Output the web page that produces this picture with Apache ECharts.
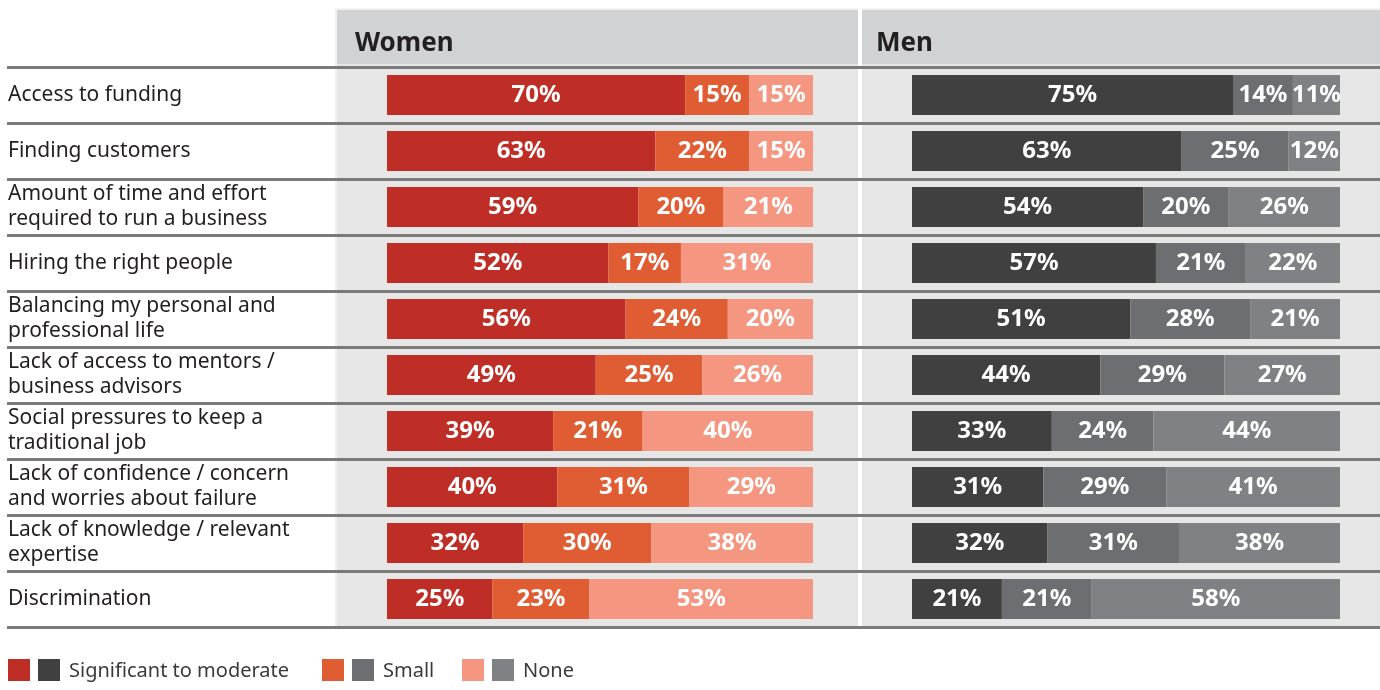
<!DOCTYPE html>
<html>
<head>
<meta charset="utf-8">
<script src="https://cdn.jsdelivr.net/npm/echarts@6/dist/echarts.min.js"></script>
<style>
  html, body { margin: 0; padding: 0; background: #ffffff; }
  #chart { width: 1380px; height: 690px; }
</style>
</head>
<body>
<div id="chart"></div>
<script>
const categories = [
  'Access to funding',
  'Finding customers',
  'Amount of time and effort\nrequired to run a business',
  'Hiring the right people',
  'Balancing my personal and\nprofessional life',
  'Lack of access to mentors /\nbusiness advisors',
  'Social pressures to keep a\ntraditional job',
  'Lack of confidence / concern\nand worries about failure',
  'Lack of knowledge / relevant\nexpertise',
  'Discrimination'
];
const panelTitles = ['Women', 'Men'];
const levelNames = ['Significant to moderate', 'Small', 'None'];

const womenSignificant = [70, 63, 59, 52, 56, 49, 39, 40, 32, 25];
const womenSmall       = [15, 22, 20, 17, 24, 25, 21, 31, 30, 23];
const womenNone        = [15, 15, 21, 31, 20, 26, 40, 29, 38, 53];

const menSignificant = [75, 63, 54, 57, 51, 44, 33, 31, 32, 21];
const menSmall       = [14, 25, 20, 21, 28, 29, 24, 29, 31, 21];
const menNone        = [11, 12, 26, 22, 21, 27, 44, 41, 38, 58];

const womenColors = ['#bf2e26', '#e05c33', '#f59680'];
const menColors = ['#404040', '#6d6e71', '#808184'];

const FONT = '"Noto Sans", "Open Sans", sans-serif';

// Bars in the reference are drawn as shares of each row's total (rows total 100-101%)
function shares(groups) {
  return groups.map((arr) => arr.map((v, i) => {
    const total = groups.reduce((s, g) => s + g[i], 0);
    return v / total * 100;
  }));
}
const womenGroups = [womenSignificant, womenSmall, womenNone];
const menGroups = [menSignificant, menSmall, menNone];
const womenShares = shares(womenGroups);
const menShares = shares(menGroups);

function makeSeries(groups, shareArr, colors, gridIdx, stackName, prefix) {
  return groups.map((raw, k) => ({
    name: prefix + levelNames[k],
    type: 'bar',
    stack: stackName,
    xAxisIndex: gridIdx,
    yAxisIndex: gridIdx,
    barWidth: 40,
    data: shareArr[k],
    itemStyle: { color: colors[k] },
    label: {
      show: true,
      position: 'inside',
      color: '#ffffff',
      fontFamily: FONT,
      fontWeight: 'bold',
      fontSize: 24,
      formatter: p => raw[p.dataIndex] + '%'
    },
    emphasis: { disabled: true }
  }));
}

const chart = echarts.init(document.getElementById('chart'), null, { renderer: 'canvas' });

const gridTop = 67, gridHeight = 560;

const legendItems = [
  { x: 8, colors: [womenColors[0], menColors[0]], text: levelNames[0] },
  { x: 322, colors: [womenColors[1], menColors[1]], text: levelNames[1] },
  { x: 462, colors: [womenColors[2], menColors[2]], text: levelNames[2] }
];
const legendGraphics = [];
legendItems.forEach(it => {
  legendGraphics.push({ type: 'rect', left: it.x, top: 659, shape: { width: 22, height: 22 }, style: { fill: it.colors[0] } });
  legendGraphics.push({ type: 'rect', left: it.x + 30, top: 659, shape: { width: 22, height: 22 }, style: { fill: it.colors[1] } });
  legendGraphics.push({ type: 'text', left: it.x + 61, top: 661, style: { text: it.text, fill: '#3a3a3a', font: '20px ' + FONT } });
});

const option = {
  backgroundColor: '#ffffff',
  animation: false,
  graphic: [
    { type: 'rect', z: -5, shape: { x: 335, y: 8, width: 1045, height: 619 }, style: { fill: '#f2f2f2' } },
    { type: 'rect', z: -4, shape: { x: 337, y: 10, width: 521, height: 617 }, style: { fill: '#e6e6e6' } },
    { type: 'rect', z: -4, shape: { x: 862, y: 10, width: 518, height: 617 }, style: { fill: '#e6e6e6' } },
    { type: 'rect', z: -3, shape: { x: 337, y: 10, width: 521, height: 54 }, style: { fill: '#d1d2d4' } },
    { type: 'rect', z: -3, shape: { x: 862, y: 10, width: 518, height: 54 }, style: { fill: '#d1d2d4' } },
    { type: 'rect', z: -3, shape: { x: 858, y: 8, width: 4, height: 619 }, style: { fill: '#ffffff' } },
    { type: 'text', left: 355, top: 31, style: { text: panelTitles[0], fill: '#231f20', font: 'bold 26px ' + FONT } },
    { type: 'text', left: 876, top: 31, style: { text: panelTitles[1], fill: '#231f20', font: 'bold 26px ' + FONT } },
    ...legendGraphics
  ],
  grid: [
    { left: 7, right: 0, top: gridTop, height: gridHeight },
    { left: 387, width: 426, top: gridTop, height: gridHeight },
    { left: 912, width: 428, top: gridTop, height: gridHeight }
  ],
  xAxis: [0, 1, 2].map(i => ({
    type: 'value', gridIndex: i, min: 0, max: 100, show: false
  })),
  yAxis: [
    {
      type: 'category', gridIndex: 0, inverse: true, data: categories, z: 5,
      axisLine: { show: false }, axisTick: { show: false }, axisLabel: { show: false },
      splitLine: { show: true, lineStyle: { color: '#7a7a7a', width: 3 } }
    },
    {
      type: 'category', gridIndex: 1, inverse: true, data: categories,
      axisLine: { show: false }, axisTick: { show: false },
      axisLabel: {
        show: true, align: 'left', margin: 379, color: '#231f20',
        fontFamily: FONT, fontSize: 21, lineHeight: 25, padding: [0, 0, 4, 0]
      },
      splitLine: { show: false }
    },
    {
      type: 'category', gridIndex: 2, inverse: true, data: categories,
      axisLine: { show: false }, axisTick: { show: false }, axisLabel: { show: false },
      splitLine: { show: false }
    }
  ],
  series: [
    ...makeSeries(womenGroups, womenShares, womenColors, 1, 'women', 'Women '),
    ...makeSeries(menGroups, menShares, menColors, 2, 'men', 'Men ')
  ]
};
chart.setOption(option);
</script>
</body>
</html>
